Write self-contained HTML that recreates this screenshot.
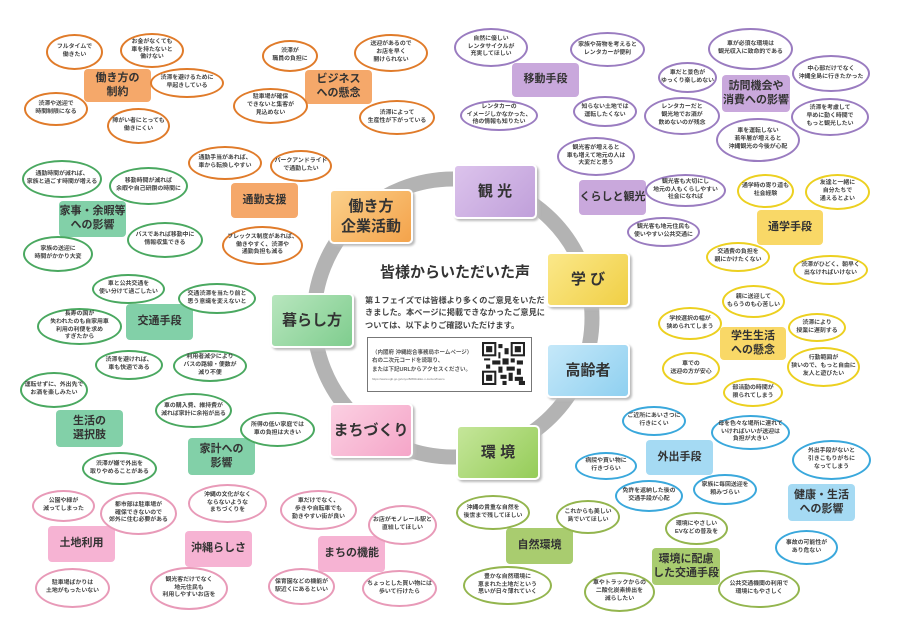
<!DOCTYPE html>
<html><head><meta charset="utf-8"><style>
body{margin:0;width:900px;height:637px;background:#fff;position:relative;overflow:hidden;font-family:"Liberation Sans","Noto Sans CJK JP",sans-serif;color:#333}
.b{position:absolute;border:2px solid;border-radius:50%;background:#fff;display:flex;align-items:center;justify-content:center;text-align:center;font-size:5.9px;line-height:1.3;box-sizing:border-box;font-weight:bold;color:#444;white-space:nowrap}
.h{position:absolute;border-radius:4px;display:flex;align-items:center;justify-content:center;text-align:center;font-size:11px;line-height:1.25;font-weight:bold;color:#333}
.m{position:absolute;border-radius:5px;display:flex;align-items:center;justify-content:center;text-align:center;font-size:15px;line-height:1.3;font-weight:bold;color:#333;box-shadow:2px 2px 2px #bbb;border:2px solid #fff;box-sizing:border-box;width:84px;height:55px}
.o{border-color:#e07b2a}.g{border-color:#4aa860}.p{border-color:#9a7cc0}.y{border-color:#ecd020}.bl{border-color:#3aa8dc}.ol{border-color:#93b54e}.pk{border-color:#e89ab8}
.ho{background:#f5a86a}.hg{background:#82d0a8}.hp{background:#c9a8dc}.hy{background:#f9d867}.hb{background:#a5daf3}.hol{background:#a9cc6f}.hpk{background:#f6b3d3}
</style></head><body>
<svg style="position:absolute;left:0;top:0" width="900" height="637"><circle cx="453" cy="318" r="139" fill="none" stroke="#b3b3b3" stroke-width="15"/></svg>

<!-- orange -->
<div class="h ho" style="left:84px;top:69px;width:67px;height:33px">働き方の<br>制約</div>
<div class="b o" style="left:46px;top:34px;width:57px;height:36px">フルタイムで<br>働きたい</div>
<div class="b o" style="left:120px;top:33px;width:64px;height:35px">お金がなくても<br>車を持たないと<br>働けない</div>
<div class="b o" style="left:150px;top:68px;width:74px;height:30px">渋滞を避けるために<br>早起きしている</div>
<div class="b o" style="left:24px;top:92px;width:64px;height:34px">渋滞や送迎で<br>時間制限になる</div>
<div class="b o" style="left:107px;top:108px;width:63px;height:36px">障がい者にとっても<br>働きにくい</div>
<div class="h ho" style="left:305px;top:70px;width:67px;height:34px">ビジネス<br>への懸念</div>
<div class="b o" style="left:262px;top:40px;width:56px;height:32px">渋滞が<br>職員の負担に</div>
<div class="b o" style="left:354px;top:34px;width:74px;height:38px">送迎があるので<br>お店を早く<br>開けられない</div>
<div class="b o" style="left:233px;top:88px;width:75px;height:36px">駐車場が確保<br>できないと集客が<br>見込めない</div>
<div class="b o" style="left:359px;top:100px;width:76px;height:35px">渋滞によって<br>生産性が下がっている</div>
<div class="h ho" style="left:231px;top:183px;width:67px;height:35px">通勤支援</div>
<div class="b o" style="left:188px;top:146px;width:74px;height:34px">通勤手当があれば、<br>車から転換しやすい</div>
<div class="b o" style="left:270px;top:150px;width:62px;height:32px">パークアンドライド<br>で通勤したい</div>
<div class="b o" style="left:222px;top:226px;width:81px;height:39px">フレックス制度があれば、<br>働きやすく、渋滞や<br>通勤負担も減る</div>

<!-- green -->
<div class="h hg" style="left:59px;top:201px;width:67px;height:36px">家事・余暇等<br>への影響</div>
<div class="b g" style="left:22px;top:160px;width:80px;height:38px">通勤時間が減れば、<br>家族と過ごす時間が増える</div>
<div class="b g" style="left:109px;top:167px;width:79px;height:38px">移動時間が減れば<br>余暇や自己研鑽の時間に</div>
<div class="b g" style="left:127px;top:222px;width:76px;height:36px">バスであれば移動中に<br>情報収集できる</div>
<div class="b g" style="left:23px;top:236px;width:70px;height:36px">家族の送迎に<br>時間がかかり大変</div>
<div class="h hg" style="left:126px;top:304px;width:67px;height:36px">交通手段</div>
<div class="b g" style="left:92px;top:274px;width:73px;height:30px">車と公共交通を<br>使い分けて過ごしたい</div>
<div class="b g" style="left:178px;top:283px;width:78px;height:31px">交通渋滞を当たり前と<br>思う意識を変えないと</div>
<div class="b g" style="left:37px;top:308px;width:85px;height:37px">長寿の国が<br>失われたのも自家用車<br>利用の利便を求め<br>すぎたから</div>
<div class="b g" style="left:95px;top:350px;width:68px;height:30px">渋滞を避ければ、<br>車も快適である</div>
<div class="b g" style="left:173px;top:350px;width:74px;height:32px">利用者減少により<br>バスの路線・便数が<br>減り不便</div>
<div class="h hg" style="left:56px;top:410px;width:67px;height:37px">生活の<br>選択肢</div>
<div class="b g" style="left:20px;top:372px;width:68px;height:36px">運転せずに、外出先で<br>お酒を楽しみたい</div>
<div class="b g" style="left:82px;top:452px;width:75px;height:33px">渋滞が嫌で外出を<br>取りやめることがある</div>
<div class="h hg" style="left:188px;top:438px;width:67px;height:37px">家計への<br>影響</div>
<div class="b g" style="left:155px;top:393px;width:77px;height:35px">車の購入費、維持費が<br>減れば家計に余裕が出る</div>
<div class="b g" style="left:240px;top:412px;width:75px;height:35px">所得の低い家庭では<br>車の負担は大きい</div>

<!-- pink -->
<div class="h hpk" style="left:48px;top:526px;width:67px;height:36px">土地利用</div>
<div class="b pk" style="left:32px;top:490px;width:63px;height:32px">公園や緑が<br>減ってしまった</div>
<div class="b pk" style="left:100px;top:492px;width:77px;height:43px">都市部は駐車場が<br>確保できないので<br>郊外に住む必要がある</div>
<div class="b pk" style="left:35px;top:568px;width:75px;height:40px">駐車場ばかりは<br>土地がもったいない</div>
<div class="h hpk" style="left:185px;top:531px;width:67px;height:36px">沖縄らしさ</div>
<div class="b pk" style="left:188px;top:484px;width:79px;height:39px">沖縄の文化がなく<br>ならないような<br>まちづくりを</div>
<div class="b pk" style="left:150px;top:567px;width:78px;height:43px">観光客だけでなく<br>地元住民も<br>利用しやすいお店を</div>
<div class="h hpk" style="left:318px;top:536px;width:67px;height:36px">まちの機能</div>
<div class="b pk" style="left:280px;top:490px;width:77px;height:40px">車だけでなく、<br>歩きや自転車でも<br>動きやすい街が良い</div>
<div class="b pk" style="left:368px;top:505px;width:69px;height:40px">お店がモノレール駅と<br>直結してほしい</div>
<div class="b pk" style="left:268px;top:568px;width:67px;height:37px">保育園などの機能が<br>駅近くにあるといい</div>
<div class="b pk" style="left:362px;top:570px;width:75px;height:37px">ちょっとした買い物には<br>歩いて行けたら</div>

<!-- purple -->
<div class="h hp" style="left:512px;top:63px;width:67px;height:34px">移動手段</div>
<div class="b p" style="left:454px;top:28px;width:74px;height:39px">自然に優しい<br>レンタサイクルが<br>充実してほしい</div>
<div class="b p" style="left:570px;top:32px;width:75px;height:35px">家族や荷物を考えると<br>レンタカーが便利</div>
<div class="b p" style="left:460px;top:100px;width:78px;height:31px">レンタカーの<br>イメージしかなかった、<br>他の情報も知りたい</div>
<div class="b p" style="left:573px;top:96px;width:64px;height:31px">知らない土地では<br>運転したくない</div>
<div class="h hp" style="left:722px;top:75px;width:68px;height:37px">訪問機会や<br>消費への影響</div>
<div class="b p" style="left:708px;top:28px;width:85px;height:42px">車が必須な環境は<br>観光収入に致命的である</div>
<div class="b p" style="left:658px;top:62px;width:59px;height:31px">車だと景色が<br>ゆっくり楽しめない</div>
<div class="b p" style="left:792px;top:55px;width:78px;height:37px">中心部だけでなく<br>沖縄全島に行きたかった</div>
<div class="b p" style="left:644px;top:97px;width:76px;height:38px">レンタカーだと<br>観光地でお酒が<br>飲めないのが残念</div>
<div class="b p" style="left:791px;top:98px;width:78px;height:38px">渋滞を考慮して<br>早めに動く時間で<br>もっと観光したい</div>
<div class="b p" style="left:716px;top:118px;width:84px;height:44px">車を運転しない<br>若年層が増えると<br>沖縄観光の今後が心配</div>
<div class="h hp" style="left:579px;top:180px;width:67px;height:35px">くらしと観光</div>
<div class="b p" style="left:557px;top:137px;width:78px;height:39px">観光客が増えると<br>車も増えて地元の人は<br>大変だと思う</div>
<div class="b p" style="left:645px;top:174px;width:81px;height:33px">観光客も大切にし<br>地元の人もくらしやすい<br>社会になれば</div>
<div class="b p" style="left:627px;top:217px;width:73px;height:30px">観光客も地元住民も<br>使いやすい公共交通に</div>

<!-- yellow -->
<div class="h hy" style="left:757px;top:210px;width:66px;height:35px">通学手段</div>
<div class="b y" style="left:737px;top:174px;width:57px;height:34px">通学時の寄り道も<br>社会経験</div>
<div class="b y" style="left:805px;top:174px;width:65px;height:36px">友達と一緒に<br>自分たちで<br>通えるとよい</div>
<div class="b y" style="left:706px;top:242px;width:64px;height:30px">交通費の負担を<br>親にかけたくない</div>
<div class="b y" style="left:793px;top:255px;width:75px;height:30px">渋滞がひどく、朝早く<br>出なければいけない</div>
<div class="h hy" style="left:720px;top:327px;width:66px;height:33px">学生生活<br>への懸念</div>
<div class="b y" style="left:722px;top:285px;width:63px;height:33px">親に送迎して<br>もらうのも心苦しい</div>
<div class="b y" style="left:658px;top:307px;width:64px;height:33px">学校選択の幅が<br>狭められてしまう</div>
<div class="b y" style="left:788px;top:313px;width:58px;height:29px">渋滞により<br>授業に遅刻する</div>
<div class="b y" style="left:662px;top:352px;width:58px;height:33px">車での<br>送迎の方が安心</div>
<div class="b y" style="left:787px;top:347px;width:73px;height:40px">行動範囲が<br>狭いので、もっと自由に<br>友人と遊びたい</div>
<div class="b y" style="left:723px;top:378px;width:60px;height:29px">部活動の時間が<br>限られてしまう</div>

<!-- blue -->
<div class="h hb" style="left:646px;top:440px;width:67px;height:35px">外出手段</div>
<div class="b bl" style="left:622px;top:406px;width:64px;height:30px">ご近所にあいさつに<br>行きにくい</div>
<div class="b bl" style="left:711px;top:415px;width:79px;height:35px">母を色々な場所に連れて<br>いければいいが送迎は<br>負担が大きい</div>
<div class="b bl" style="left:575px;top:452px;width:62px;height:28px">病院や買い物に<br>行きづらい</div>
<div class="b bl" style="left:615px;top:480px;width:68px;height:32px">免許を返納した後の<br>交通手段が心配</div>
<div class="b bl" style="left:693px;top:474px;width:64px;height:31px">家族に毎回送迎を<br>頼みづらい</div>
<div class="h hb" style="left:788px;top:484px;width:67px;height:37px">健康・生活<br>への影響</div>
<div class="b bl" style="left:792px;top:440px;width:79px;height:40px">外出手段がないと<br>引きこもりがちに<br>なってしまう</div>
<div class="b bl" style="left:775px;top:530px;width:63px;height:35px">事故の可能性が<br>あり危ない</div>

<!-- olive -->
<div class="h hol" style="left:506px;top:528px;width:67px;height:36px">自然環境</div>
<div class="b ol" style="left:456px;top:495px;width:74px;height:35px">沖縄の貴重な自然を<br>後世まで残してほしい</div>
<div class="b ol" style="left:556px;top:500px;width:64px;height:34px">これからも美しい<br>島でいてほしい</div>
<div class="b ol" style="left:463px;top:566px;width:89px;height:39px">豊かな自然環境に<br>恵まれた土地だという<br>思いが日々薄れていく</div>
<div class="h hol" style="left:652px;top:548px;width:68px;height:37px">環境に配慮<br>した交通手段</div>
<div class="b ol" style="left:665px;top:512px;width:63px;height:33px">環境にやさしい<br>EVなどの普及を</div>
<div class="b ol" style="left:584px;top:572px;width:71px;height:40px">車やトラックからの<br>二酸化炭素排出を<br>減らしたい</div>
<div class="b ol" style="left:718px;top:570px;width:82px;height:38px">公共交通機関の利用で<br>環境にもやさしく</div>

<!-- main -->
<div class="m" style="left:329px;top:189px;background:linear-gradient(135deg,#fbd08a,#f4a34b)">働き方<br>企業活動</div>
<div class="m" style="left:453px;top:164px;background:linear-gradient(135deg,#dcc3ec,#c0a0da)">観 光</div>
<div class="m" style="left:546px;top:252px;background:linear-gradient(135deg,#fbe88a,#f0cf45)">学 び</div>
<div class="m" style="left:546px;top:343px;background:linear-gradient(135deg,#c5e8f9,#8fd0f0)">高齢者</div>
<div class="m" style="left:456px;top:425px;background:linear-gradient(135deg,#c5e69a,#95cc58)">環 境</div>
<div class="m" style="left:329px;top:403px;background:linear-gradient(135deg,#fbd0e2,#f5a5c8)">まちづくり</div>
<div class="m" style="left:270px;top:293px;background:linear-gradient(135deg,#b8e6be,#7fcd8e)">暮らし方</div>

<div style="position:absolute;left:375px;top:261px;width:160px;text-align:center;font-size:15px;font-weight:bold;color:#333">皆様からいただいた声</div>
<div style="position:absolute;left:365px;top:295px;width:200px;font-size:8.2px;line-height:1.5;font-weight:bold;color:#444;white-space:nowrap">第１フェイズでは皆様より多くのご意見をいただ<br>きました。本ページに掲載できなかったご意見に<br>ついては、以下よりご確認いただけます。</div>
<div style="position:absolute;left:367px;top:337px;width:165px;height:55px;border:1px solid #777;box-sizing:border-box;background:#fff">
<div style="position:absolute;left:4px;top:11px;font-size:5.5px;line-height:1.5;color:#555;white-space:nowrap;font-weight:bold">（内閣府 沖縄総合事務局ホームページ）<br>右の二次元コードを読取り、<br>または下記URLからアクセスください。</div>
<div style="position:absolute;left:4px;top:39px;font-size:3px;color:#777;white-space:nowrap">https://www.ogb.go.jp/unyu/8280/okiko-n-zeizen/Faxco</div>
<svg style="position:absolute;left:114px;top:4px" width="43" height="43" viewBox="0 0 21 21">
<rect width="21" height="21" fill="#fff"/>
<g fill="#222"><rect x="0" y="0" width="7" height="7"/><rect x="14" y="0" width="7" height="7"/><rect x="0" y="14" width="7" height="7"/></g>
<g fill="#fff"><rect x="1" y="1" width="5" height="5"/><rect x="15" y="1" width="5" height="5"/><rect x="1" y="15" width="5" height="5"/></g>
<g fill="#222"><rect x="2" y="2" width="3" height="3"/><rect x="16" y="2" width="3" height="3"/><rect x="2" y="16" width="3" height="3"/>
<rect x="8" y="1" width="2" height="2"/><rect x="11" y="3" width="2" height="3"/><rect x="8" y="5" width="1" height="3"/><rect x="1" y="8" width="3" height="1"/><rect x="5" y="9" width="4" height="2"/><rect x="10" y="8" width="3" height="3"/><rect x="14" y="8" width="2" height="2"/><rect x="17" y="9" width="3" height="2"/><rect x="2" y="11" width="2" height="2"/><rect x="8" y="12" width="2" height="3"/><rect x="12" y="12" width="4" height="2"/><rect x="17" y="13" width="2" height="3"/><rect x="9" y="16" width="3" height="2"/><rect x="13" y="15" width="2" height="4"/><rect x="16" y="17" width="4" height="2"/><rect x="10" y="19" width="2" height="2"/><rect x="18" y="19" width="3" height="2"/></g>
</svg></div>
</body></html>
